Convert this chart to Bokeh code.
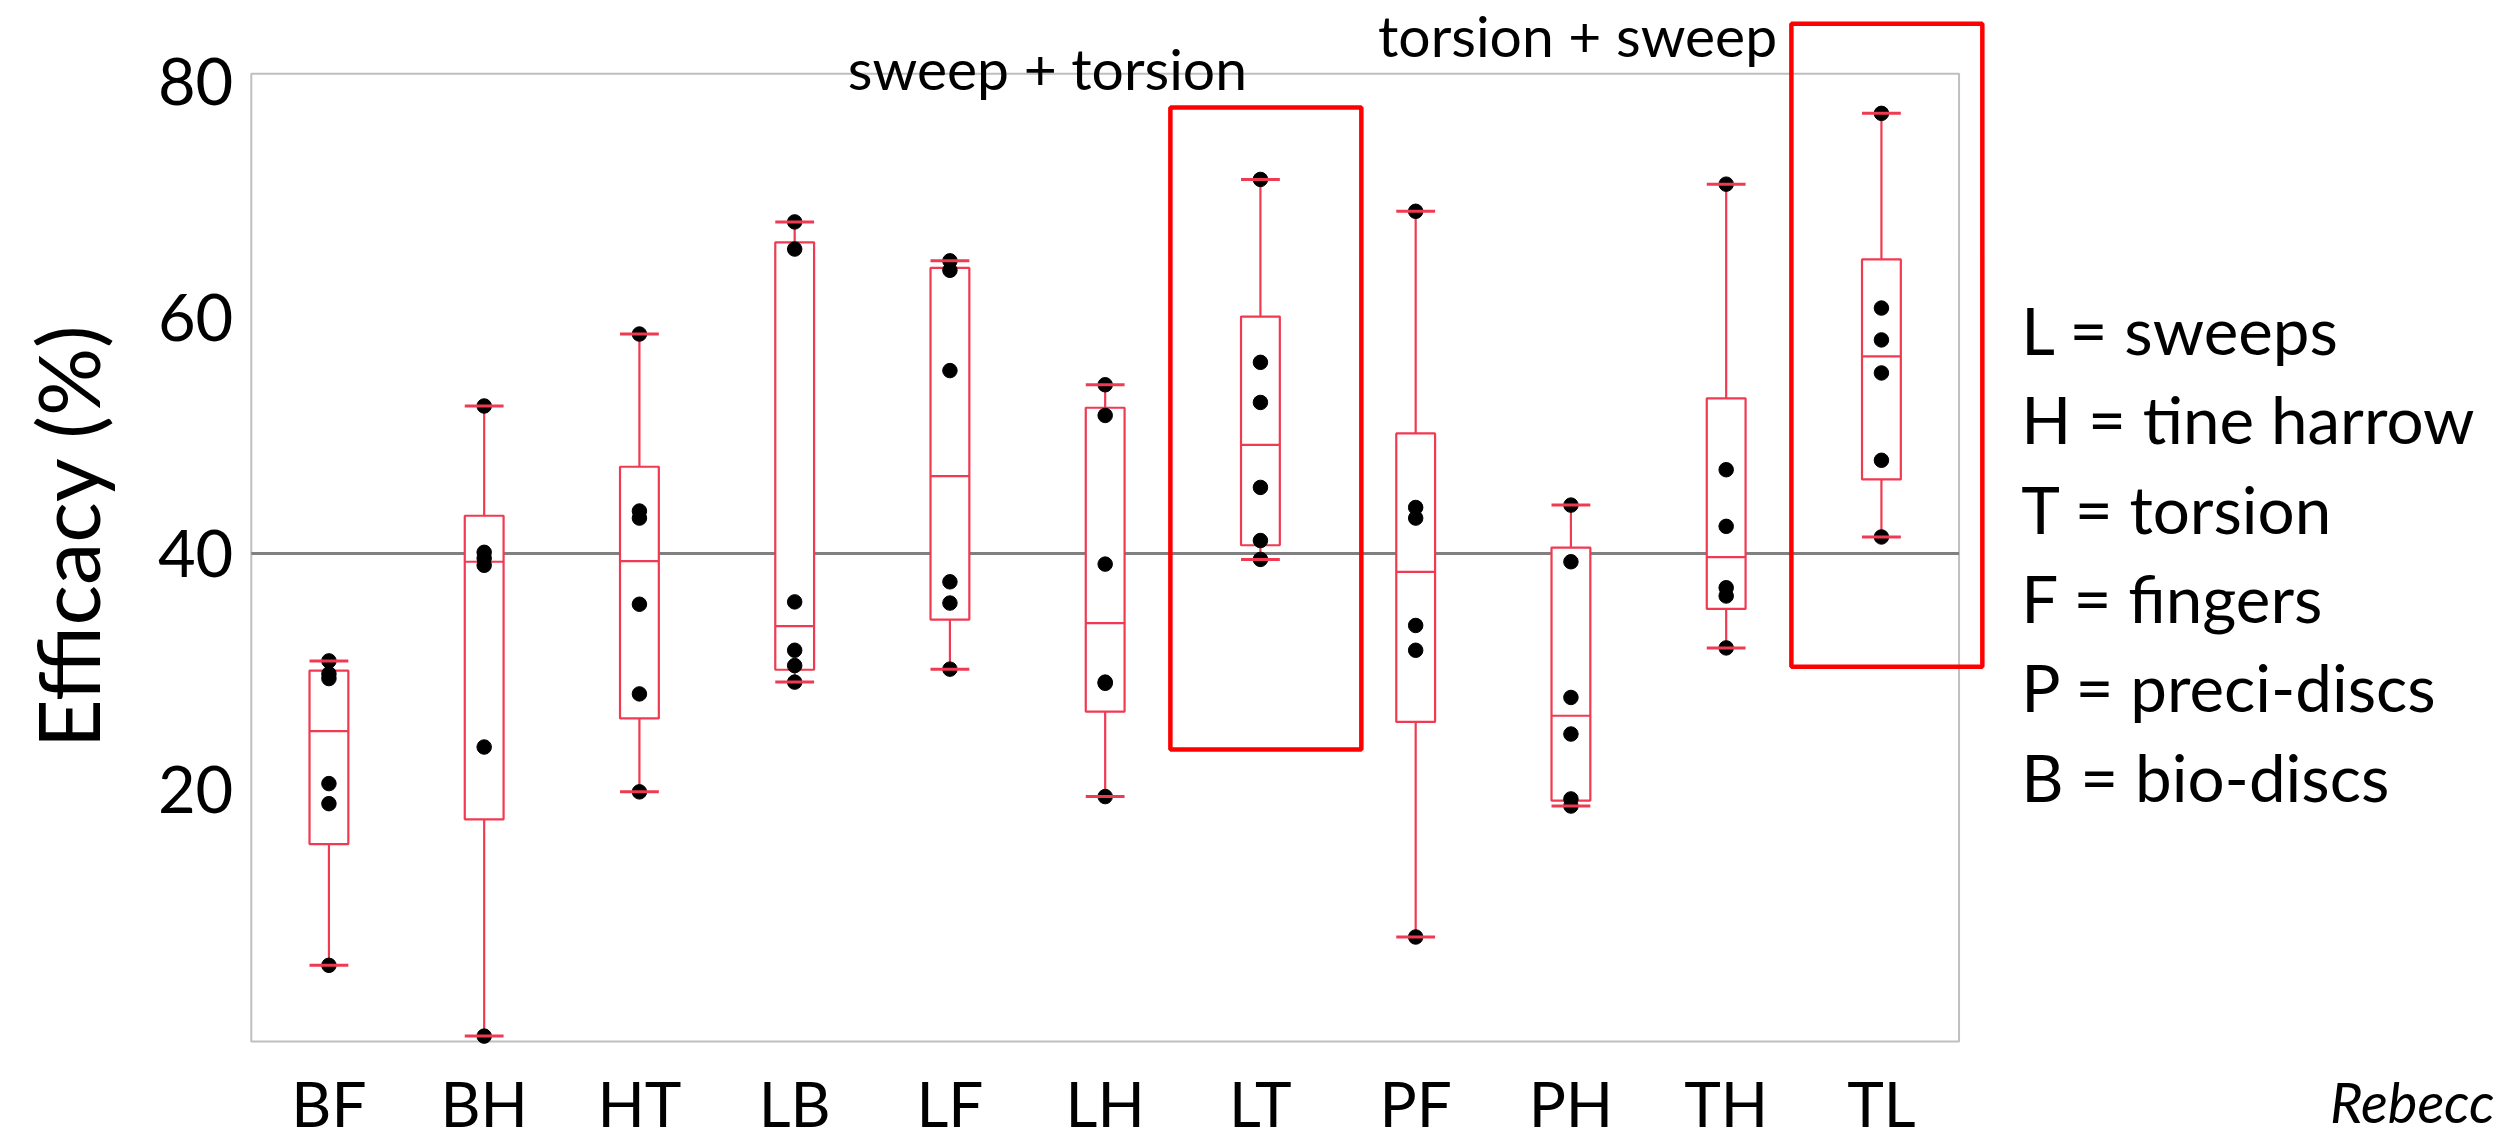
import numpy as np
from bokeh.plotting import figure
from bokeh.models import Range1d, FixedTicker, ColumnDataSource
from bokeh.core.properties import value
from bokeh.embed import file_html
from bokeh.resources import INLINE

# ---------------- data ----------------
categories = ["BF", "BH", "HT", "LB", "LF", "LH", "LT", "PF", "PH", "TH", "TL"]
BF = [30.9, 29.8, 29.4, 20.5, 18.8, 5.1]
BH = [52.5, 40.1, 39.6, 39.0, 23.6, -0.9]
HT = [58.6, 43.6, 43.0, 35.7, 28.1, 19.8]
LB = [68.1, 65.8, 35.9, 31.8, 30.5, 29.1]
LF = [64.8, 64.0, 55.5, 37.6, 35.8, 30.2]
LH = [54.3, 51.7, 39.1, 29.1, 29.0, 19.4]
LT = [71.7, 56.2, 52.8, 45.6, 41.1, 39.5]
PF = [69.0, 43.9, 43.0, 33.9, 31.8, 7.5]
PH = [44.1, 39.3, 27.8, 24.7, 19.2, 18.6]
TH = [71.3, 47.1, 42.3, 37.1, 36.4, 32.0]
TL = [77.3, 60.8, 58.1, 55.3, 47.9, 41.4]
group_values = [BF, BH, HT, LB, LF, LH, LT, PF, PH, TH, TL]

y_ticks = [20, 40, 60, 80]
reference_level = 40
y_label = "Efficacy (%)"

highlight_groups = ["LT", "TL"]
highlight_bottom = [23.4, 30.4]
highlight_top = [77.8, 84.9]
highlight_labels = ["sweep + torsion", "torsion + sweep"]

legend_lines = ["L = sweeps", "H = tine harrow", "T = torsion",
                "F = fingers", "P = preci-discs", "B = bio-discs"]
credit = "Rebecc"

# ---------------- layout constants ----------------
W, H = 2511, 1140
PX_PER_CAT = 155.25
PX_PER_UNIT = 11.8
X0_PX = 250.8          # canvas x where the category axis starts
Y40_PX = 553.0         # canvas y (from top) of value 40
FRAME_BOTTOM, FRAME_TOP = -1.36, 80.65
BOX_W = 0.25
FONT = "Lato"
BOX_COLOR = "#EF3A52"

x_start = -X0_PX / PX_PER_CAT
x_end = (W - X0_PX) / PX_PER_CAT
y_start = 40 - (H - Y40_PX) / PX_PER_UNIT
y_end = 40 + Y40_PX / PX_PER_UNIT

p = figure(width=W, height=H, x_range=Range1d(x_start, x_end),
           y_range=Range1d(y_start, y_end), output_backend="svg",
           toolbar_location=None, min_border=0, outline_line_color=None)
p.xgrid.visible = False
p.ygrid.visible = False
p.background_fill_color = "white"
p.border_fill_color = "white"

ncat = len(categories)
centers = [i + 0.5 for i in range(ncat)]

# frame and reference line
p.quad(left=[0], right=[ncat], bottom=[FRAME_BOTTOM], top=[FRAME_TOP],
       fill_color=None, line_color="#BFBFBF", line_width=2)
p.segment(x0=[0], x1=[ncat], y0=[reference_level], y1=[reference_level],
          line_color="#808080", line_width=3)

# box statistics (type-6 quantiles)
q1s, meds, q3s, mins, maxs = [], [], [], [], []
for vals in group_values:
    a = np.array(vals, dtype=float)
    q1, md, q3 = np.percentile(a, [25, 50, 75], method="weibull")
    q1s.append(q1); meds.append(md); q3s.append(q3)
    mins.append(a.min()); maxs.append(a.max())

box_src = ColumnDataSource(dict(x=centers, q1=q1s, med=meds, q3=q3s,
                                lo=mins, hi=maxs,
                                l=[c - BOX_W / 2 for c in centers],
                                r=[c + BOX_W / 2 for c in centers]))

p.segment(x0="x", x1="x", y0="q3", y1="hi", source=box_src,
          line_color=BOX_COLOR, line_width=2.2)
p.segment(x0="x", x1="x", y0="lo", y1="q1", source=box_src,
          line_color=BOX_COLOR, line_width=2.2)
p.quad(left="l", right="r", bottom="q1", top="q3", source=box_src,
       fill_color="white", line_color=BOX_COLOR, line_width=2.2)
p.segment(x0="l", x1="r", y0="med", y1="med", source=box_src,
          line_color=BOX_COLOR, line_width=2.2)

# points
px, py = [], []
for c, vals in zip(centers, group_values):
    for v in vals:
        px.append(c); py.append(v)
p.scatter(x=px, y=py, size=14.5, color="black")

# whisker caps
p.segment(x0="l", x1="r", y0="hi", y1="hi", source=box_src,
          line_color=BOX_COLOR, line_width=3)
p.segment(x0="l", x1="r", y0="lo", y1="lo", source=box_src,
          line_color=BOX_COLOR, line_width=3)

# highlight rectangles and their labels
h_left_off, h_right_off = -0.58, 0.65
label_off = [-1.372, -1.957]
label_top = [84.01, 86.8]
hc = [categories.index(g) + 0.5 for g in highlight_groups]
p.quad(left=[c + h_left_off for c in hc], right=[c + h_right_off for c in hc],
       bottom=highlight_bottom, top=highlight_top,
       fill_color=None, line_color="#FF0000", line_width=4.5)
p.text(x=[c + o for c, o in zip(hc, label_off)], y=label_top,
       text=highlight_labels, text_font=value(FONT), text_font_size="57px",
       text_align="center", text_baseline="top", text_color="black")

# legend text on the right
leg_x = 11.40
leg_y0, leg_dy = 62.34, 7.576
p.text(x=[leg_x] * len(legend_lines),
       y=[leg_y0 - i * leg_dy for i in range(len(legend_lines))],
       text=legend_lines, text_font=value(FONT), text_font_size="65.5px",
       text_align="left", text_baseline="top", text_color="black")

# credit text
p.text(x=[13.39], y=[-3.62], text=[credit], text_font=value(FONT),
       text_font_size="56px", text_font_style="italic",
       text_align="left", text_baseline="top", text_color="black")

# axes
ya = p.yaxis[0]
ya.fixed_location = 0
ya.bounds = (FRAME_BOTTOM, FRAME_TOP)
ya.ticker = FixedTicker(ticks=y_ticks)
ya.axis_line_color = None
ya.major_tick_line_color = None
ya.minor_tick_line_color = None
ya.major_tick_out = 0
ya.major_tick_in = 0
ya.major_label_text_font = FONT
ya.major_label_text_font_size = "65px"
ya.major_label_text_color = "black"
ya.major_label_standoff = 18
ya.axis_label = "\u00a0\u00a0" + y_label
ya.axis_label_text_font = FONT
ya.axis_label_text_font_size = "85px"
ya.axis_label_text_font_style = "normal"
ya.axis_label_text_color = "black"
ya.axis_label_standoff = 37

xa = p.xaxis[0]
xa.fixed_location = FRAME_BOTTOM
xa.bounds = (0, ncat)
xa.ticker = FixedTicker(ticks=centers)
xa.major_label_overrides = {c: name for c, name in zip(centers, categories)}
xa.axis_line_color = None
xa.major_tick_line_color = None
xa.minor_tick_line_color = None
xa.major_tick_out = 0
xa.major_tick_in = 0
xa.major_label_text_font = FONT
xa.major_label_text_font_size = "62px"
xa.major_label_text_color = "black"
xa.major_label_standoff = 24

open("out.html", "w").write(file_html(p, INLINE))
